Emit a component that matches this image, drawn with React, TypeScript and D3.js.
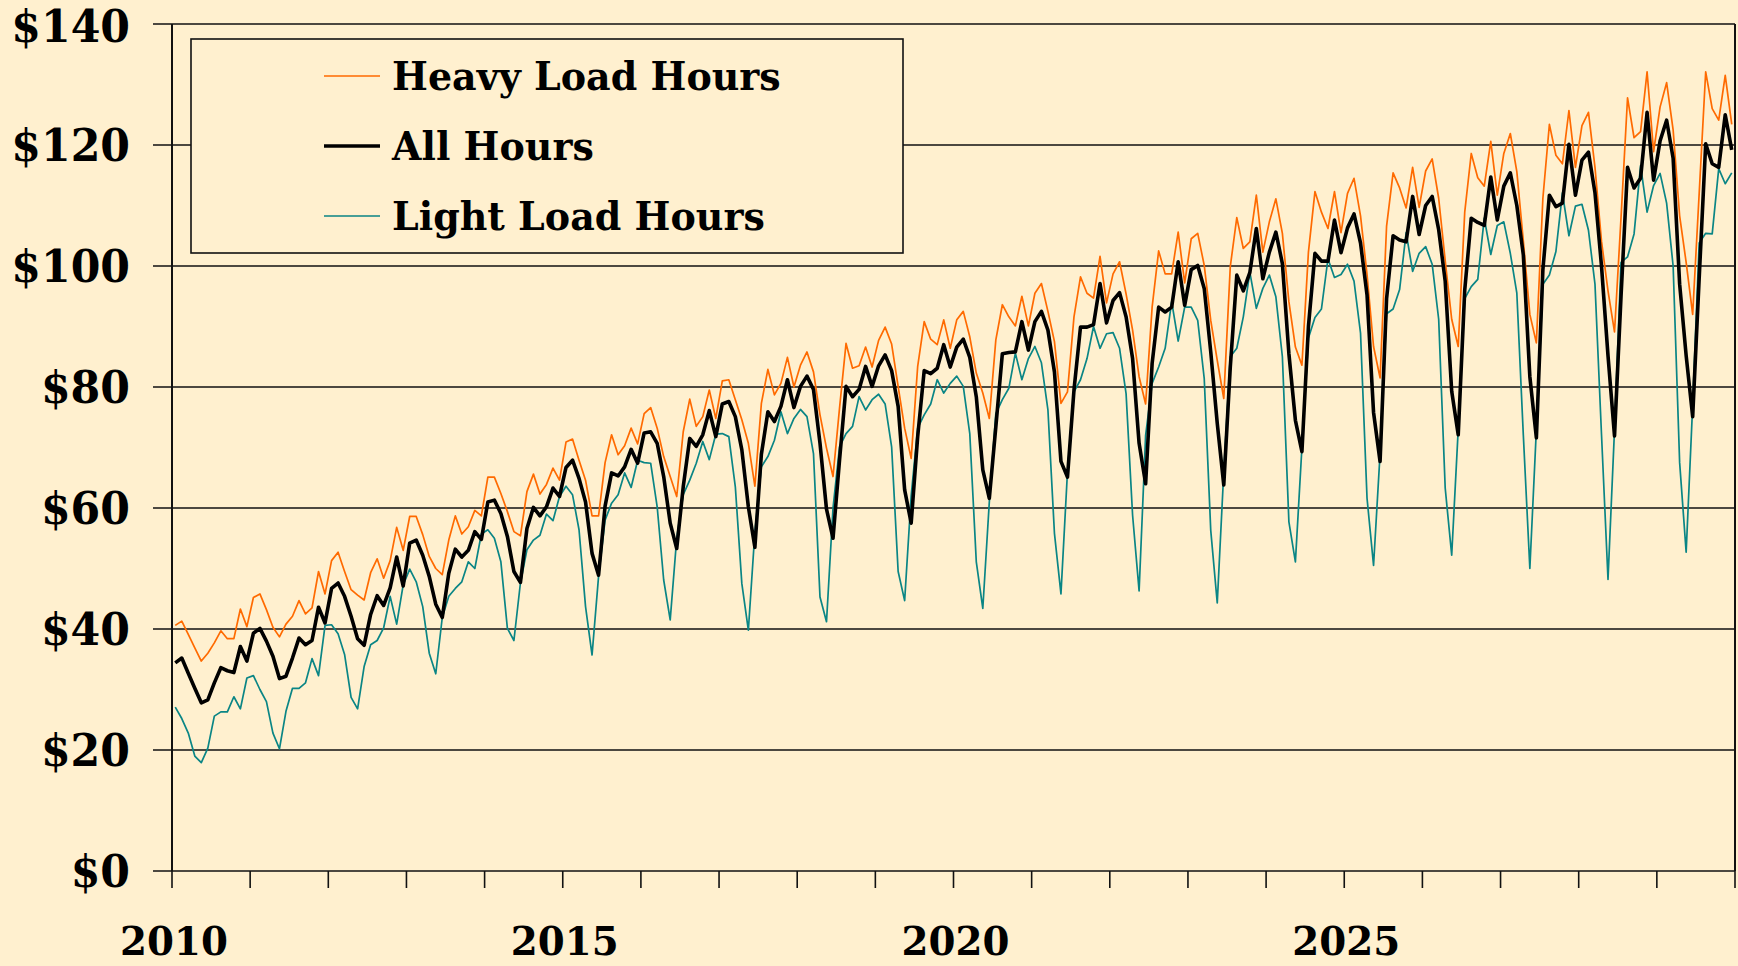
import React, { useRef, useEffect } from 'react';
import * as d3 from 'd3';

// monthly prices, Jan 2010 .. Dec 2029 ($/MWh)
const startYear = 2010;
const endYear = 2030;

const heavyLoad = [
  40.6, 41.3, 39.1, 36.9, 34.7, 36.0, 37.7, 39.7, 38.4, 38.4, 43.3, 40.4,
  45.2, 45.8, 43.2, 40.3, 38.7, 40.8, 42.1, 44.7, 42.5, 43.5, 49.5, 45.8,
  51.3, 52.7, 49.5, 46.5, 45.6, 44.8, 49.3, 51.6, 48.4, 51.3, 56.8, 53.0,
  58.6, 58.6, 55.6, 52.0, 50.0, 49.0, 54.7, 58.7, 55.7, 56.9, 59.6, 58.7,
  65.1, 65.1, 62.4, 59.4, 56.1, 55.4, 62.7, 65.6, 62.3, 63.9, 66.6, 64.6,
  70.9, 71.4, 67.9, 64.6, 58.7, 58.7, 67.5, 72.1, 68.8, 70.3, 73.2, 70.6,
  75.6, 76.6, 73.2, 68.5, 65.2, 61.9, 72.6, 78.0, 73.5, 75.1, 79.5, 74.8,
  81.0, 81.2, 77.9, 74.6, 70.7, 63.6, 77.3, 82.9, 78.7, 80.6, 84.9, 80.0,
  83.6, 85.8, 82.5, 75.4, 69.9, 65.2, 76.5, 87.2, 83.1, 83.5, 86.6, 83.3,
  87.7, 89.9, 87.1, 80.1, 73.2, 68.2, 83.4, 90.8, 87.9, 87.0, 91.1, 86.4,
  91.1, 92.5, 88.3, 82.3, 79.0, 74.8, 87.8, 93.6, 91.6, 90.1, 95.0, 90.1,
  95.5, 97.1, 92.5, 87.5, 77.3, 79.2, 91.6, 98.2, 95.5, 94.7, 101.6, 93.9,
  98.7, 100.7, 95.4, 89.4, 81.7, 77.2, 93.2, 102.5, 98.7, 98.7, 105.6, 97.2,
  104.5, 105.4, 100.1, 91.0, 84.4, 78.1, 99.9, 108.0, 102.9, 104.0, 111.7, 102.3,
  107.3, 111.1, 105.4, 94.1, 86.6, 83.6, 102.3, 112.3, 108.9, 106.2, 112.3, 105.5,
  112.0, 114.5, 108.3, 98.6, 86.7, 81.5, 106.6, 115.4, 112.9, 109.6, 116.3, 109.7,
  115.7, 117.7, 111.2, 100.9, 91.2, 86.7, 108.9, 118.6, 114.6, 113.2, 120.6, 111.7,
  118.6, 121.9, 115.6, 104.1, 92.0, 87.3, 111.2, 123.4, 118.3, 116.9, 125.7, 116.3,
  123.2, 125.4, 116.3, 104.1, 95.9, 89.1, 108.0, 127.8, 121.2, 122.2, 132.1, 118.9,
  126.3, 130.3, 122.5, 108.3, 100.6, 92.0, 112.0, 132.1, 126.0, 124.1, 131.5, 123.4,
];

const allHours = [
  34.4, 35.2, 32.7, 30.2, 27.8, 28.3, 31.1, 33.6, 33.1, 32.8, 37.1, 34.7,
  39.3, 40.1, 38.0, 35.5, 31.8, 32.2, 35.2, 38.5, 37.4, 38.1, 43.6, 41.0,
  46.7, 47.6, 45.4, 42.1, 38.4, 37.3, 42.4, 45.5, 43.9, 46.8, 51.9, 47.1,
  54.2, 54.7, 52.2, 48.7, 44.1, 41.9, 49.2, 53.2, 51.9, 53.0, 56.1, 54.8,
  61.0, 61.3, 59.1, 55.3, 49.5, 47.7, 56.6, 60.1, 58.7, 60.2, 63.3, 61.9,
  66.7, 67.9, 64.9, 61.0, 52.5, 48.9, 60.3, 65.8, 65.3, 66.8, 69.7, 67.4,
  72.4, 72.6, 70.7, 65.2, 57.5, 53.3, 63.5, 71.5, 70.2, 72.1, 76.1, 71.8,
  77.2, 77.6, 75.1, 69.6, 60.2, 53.5, 68.9, 75.9, 74.3, 76.8, 81.2, 76.6,
  80.1, 81.8, 79.6, 70.7, 59.8, 55.0, 67.9, 80.1, 78.4, 79.6, 83.4, 80.1,
  83.5, 85.3, 82.7, 76.8, 63.0, 57.5, 71.8, 82.7, 82.2, 83.1, 87.0, 83.3,
  86.6, 87.9, 84.9, 78.4, 66.3, 61.6, 73.4, 85.5, 85.7, 85.8, 90.8, 86.1,
  90.8, 92.5, 89.4, 82.5, 67.7, 65.1, 79.5, 89.9, 89.9, 90.3, 97.1, 90.6,
  94.3, 95.6, 91.6, 84.7, 70.7, 64.0, 83.9, 93.2, 92.4, 93.2, 100.7, 93.5,
  99.4, 100.1, 96.3, 85.8, 74.0, 63.8, 83.3, 98.5, 95.9, 98.9, 106.2, 97.9,
  102.3, 105.6, 100.4, 85.5, 74.5, 69.3, 90.0, 102.1, 100.8, 100.8, 107.6, 102.2,
  106.3, 108.6, 103.8, 95.2, 75.8, 67.7, 94.6, 105.0, 104.3, 104.0, 111.5, 105.2,
  110.0, 111.5, 106.0, 97.5, 79.3, 72.1, 96.0, 107.9, 107.2, 106.7, 114.7, 107.6,
  113.2, 115.4, 110.0, 101.8, 81.7, 71.6, 99.4, 111.7, 109.8, 110.4, 120.1, 111.7,
  117.5, 118.8, 112.1, 100.0, 85.2, 71.9, 95.0, 116.3, 112.9, 114.5, 125.4, 114.2,
  120.7, 124.1, 117.8, 97.0, 85.2, 75.1, 98.0, 120.2, 116.9, 116.3, 125.0, 119.2,
];

const lightLoad = [
  27.1, 25.2, 22.8, 19.0, 17.9, 20.3, 25.6, 26.3, 26.3, 28.8, 26.8, 31.9,
  32.3, 30.0, 28.0, 22.8, 20.2, 26.4, 30.2, 30.2, 31.1, 35.1, 32.3, 40.6,
  40.7, 39.2, 35.8, 28.7, 26.8, 33.8, 37.4, 38.1, 40.2, 45.4, 40.8, 47.3,
  49.9, 47.8, 43.7, 36.0, 32.6, 41.9, 45.4, 46.7, 47.8, 51.1, 50.0, 55.7,
  56.4, 55.0, 51.1, 40.1, 38.1, 47.6, 53.1, 54.7, 55.5, 59.0, 57.9, 61.9,
  63.6, 62.2, 56.4, 43.7, 35.7, 48.7, 58.0, 60.8, 62.2, 65.8, 63.4, 67.9,
  67.5, 67.4, 60.2, 48.1, 41.5, 55.0, 62.2, 64.6, 67.4, 71.0, 68.0, 72.2,
  72.3, 71.8, 63.5, 47.5, 39.8, 56.0, 66.8, 68.5, 71.2, 75.9, 72.3, 74.8,
  76.3, 75.1, 69.0, 45.3, 41.2, 60.0, 70.1, 72.3, 73.5, 78.4, 76.2, 77.9,
  78.8, 77.2, 70.1, 49.5, 44.7, 62.0, 73.2, 75.4, 77.2, 81.2, 79.0, 80.6,
  81.8, 80.1, 72.3, 51.1, 43.4, 61.0, 75.6, 77.9, 79.8, 85.6, 81.2, 84.7,
  86.7, 84.0, 76.2, 55.8, 45.8, 66.0, 79.2, 81.2, 84.7, 90.0, 86.4, 88.8,
  89.0, 86.4, 78.9, 58.8, 46.3, 72.0, 80.6, 83.3, 86.4, 94.1, 87.6, 93.2,
  93.2, 91.0, 81.4, 56.3, 44.3, 66.0, 85.0, 86.4, 91.6, 99.0, 93.0, 96.3,
  98.5, 94.9, 85.0, 57.7, 51.1, 70.0, 88.1, 91.5, 92.9, 101.2, 98.1, 98.6,
  100.3, 97.5, 88.9, 61.6, 50.5, 69.0, 92.1, 92.9, 96.1, 105.5, 99.1, 102.1,
  103.2, 100.3, 91.2, 63.3, 52.2, 73.0, 94.6, 96.6, 97.8, 107.9, 101.9, 106.7,
  107.3, 102.1, 95.5, 72.0, 50.0, 73.0, 97.0, 98.5, 102.4, 112.1, 105.0, 109.9,
  110.2, 105.9, 97.0, 72.2, 48.2, 73.0, 100.6, 101.5, 105.3, 116.6, 108.9, 113.3,
  115.3, 110.4, 100.0, 67.5, 52.7, 77.0, 103.8, 105.4, 105.3, 116.1, 113.6, 115.4,
];

const yTicks = [0, 20, 40, 60, 80, 100, 120, 140];
const yearLabels = [2010, 2015, 2020, 2025];

const series = [
  { name: 'Heavy Load Hours', values: heavyLoad, color: '#ff6a00', width: 1.7 },
  { name: 'All Hours', values: allHours, color: '#000000', width: 3.6 },
  { name: 'Light Load Hours', values: lightLoad, color: '#0a8585', width: 1.7 },
];

const App = () => {
  const svgRef = useRef(null);

  useEffect(() => {
    const svg = d3.select(svgRef.current);
    svg.selectAll('*').remove();

    const width = 1738;
    const height = 966;
    const margin = { top: 24, right: 3, bottom: 95, left: 172 };
    const font = '"DejaVu Serif", serif';

    svg.attr('width', width).attr('height', height);

    svg.append('rect')
       .attr('width', width)
       .attr('height', height)
       .attr('fill', '#fff0cf');

    const x = d3.scaleLinear()
                .domain([startYear, endYear])
                .range([margin.left, width - margin.right]);

    const y = d3.scaleLinear()
                .domain([0, 140])
                .range([height - margin.bottom, margin.top]);

    // gridlines + left ticks
    svg.append('g')
       .selectAll('line')
       .data(yTicks)
       .join('line')
       .attr('x1', margin.left - 19)
       .attr('x2', width - margin.right)
       .attr('y1', d => y(d))
       .attr('y2', d => y(d))
       .attr('stroke', '#111')
       .attr('stroke-width', 1.6);

    // labels are a bit narrower than DejaVu, so squeeze them horizontally
    svg.append('g')
       .selectAll('text')
       .data(yTicks)
       .join('text')
       .attr('transform', d => `translate(130,${Math.max(y(d) + 16, 42)}) scale(0.97,1)`)
       .attr('text-anchor', 'end')
       .attr('font-family', font)
       .attr('font-weight', 'bold')
       .attr('font-size', 44)
       .text(d => `$${d}`);

    // year ticks
    const years = d3.range(startYear, endYear + 1);
    svg.append('g')
       .selectAll('line')
       .data(years)
       .join('line')
       .attr('x1', d => x(d))
       .attr('x2', d => x(d))
       .attr('y1', y(0))
       .attr('y2', y(0) + 17)
       .attr('stroke', '#111')
       .attr('stroke-width', 1.6);

    svg.append('g')
       .selectAll('text')
       .data(yearLabels)
       .join('text')
       .attr('transform', d => `translate(${x(d) + 2},955) scale(0.97,1)`)
       .attr('text-anchor', 'middle')
       .attr('font-family', font)
       .attr('font-weight', 'bold')
       .attr('font-size', 40)
       .text(d => d);

    // left and right frame
    [margin.left, width - margin.right].forEach(px => {
      svg.append('line')
         .attr('x1', px).attr('x2', px)
         .attr('y1', y(140)).attr('y2', y(0))
         .attr('stroke', '#111')
         .attr('stroke-width', 2);
    });

    const line = d3.line()
                   .x((d, i) => x(startYear + (i + 0.5) / 12))
                   .y(d => y(d));

    // light, heavy, then all hours on top
    [series[2], series[0], series[1]].forEach(s => {
      svg.append('path')
         .datum(s.values)
         .attr('d', line)
         .attr('fill', 'none')
         .attr('stroke', s.color)
         .attr('stroke-width', s.width)
         .attr('stroke-linejoin', 'round');
    });

    // Legend
    const legend = svg.append('g');
    legend.append('rect')
          .attr('x', 191)
          .attr('y', 39)
          .attr('width', 712)
          .attr('height', 214)
          .attr('fill', '#fff0cf')
          .attr('stroke', '#111')
          .attr('stroke-width', 1.6);

    series.forEach((s, i) => {
      const cy = 76 + i * 70;
      legend.append('line')
            .attr('x1', 324).attr('x2', 380)
            .attr('y1', cy).attr('y2', cy)
            .attr('stroke', s.color)
            .attr('stroke-width', s.width);
      legend.append('text')
            .attr('transform', `translate(392,${cy + 14}) scale(0.95,1)`)
            .attr('font-family', font)
            .attr('font-weight', 'bold')
            .attr('font-size', 40)
            .text(s.name);
    });
  }, []);

  return <svg ref={svgRef} style={{ position: 'absolute', left: 0, top: 0, display: 'block' }}></svg>;
};

export default App;
